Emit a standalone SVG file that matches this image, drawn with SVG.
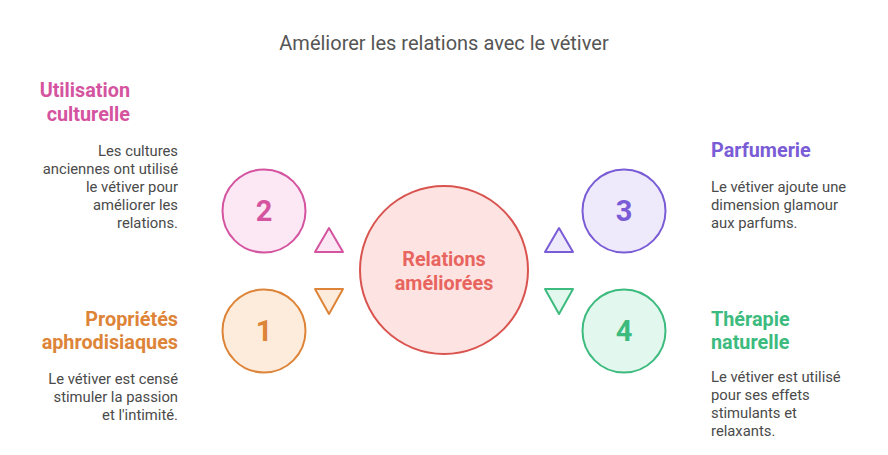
<svg xmlns="http://www.w3.org/2000/svg" width="888" height="455" viewBox="0 0 888 455">
<style>
text{font-family:Roboto,"Liberation Sans",sans-serif;}
.title{font-size:20px;fill:#555555;text-anchor:middle;}
.head{font-size:19.8px;font-weight:bold;}
.desc{font-size:14.8px;fill:#4a4a4a;}
.num{font-size:29px;font-weight:bold;text-anchor:middle;}
.r{text-anchor:end;}
.pink{fill:#D4549F;}
.orange{fill:#DD8438;}
.purple{fill:#7A5CD6;}
.green{fill:#3DBB7E;}
.sw{stroke-width:2;}
</style>
<rect width="888" height="455" fill="#ffffff"/>
<text class="title" x="444" y="50">Améliorer les relations avec le vétiver</text>

<g id="center">
<circle cx="444" cy="270" r="84" fill="#FDE4E2" stroke="#D9534F" class="sw"/>
<text x="444" y="266" font-size="19.8" font-weight="bold" fill="#E8645F" text-anchor="middle">Relations</text>
<text x="444" y="290" font-size="19.8" font-weight="bold" fill="#E8645F" text-anchor="middle">améliorées</text>
</g>

<g id="connectors">
<polygon points="329,228 343,252 315,252" fill="#FCE8F5" stroke="#D4549F" class="sw" stroke-linejoin="round"/>
<polygon points="315,289 343,289 329,314" fill="#FDEBDC" stroke="#DD8438" class="sw" stroke-linejoin="round"/>
<polygon points="559,228 573,252 545,252" fill="#EEEAFC" stroke="#7A5CD6" class="sw" stroke-linejoin="round"/>
<polygon points="545,289 573,289 559,314" fill="#E2F8EE" stroke="#3DBB7E" class="sw" stroke-linejoin="round"/>
</g>

<g id="node2">
<circle cx="264" cy="211" r="41.5" fill="#FCE8F5" stroke="#D4549F" class="sw"/>
<text class="num pink" x="264" y="221">2</text>
<text class="head pink r" x="130" y="97">Utilisation</text>
<text class="head pink r" x="130" y="121">culturelle</text>
<text class="desc r" x="178" y="156">Les cultures</text>
<text class="desc r" x="178" y="174">anciennes ont utilisé</text>
<text class="desc r" x="178" y="192">le vétiver pour</text>
<text class="desc r" x="178" y="210">améliorer les</text>
<text class="desc r" x="178" y="228">relations.</text>
</g>

<g id="node1">
<circle cx="264" cy="331" r="41.5" fill="#FDEBDC" stroke="#DD8438" class="sw"/>
<text class="num orange" x="264" y="341">1</text>
<text class="head orange r" x="178" y="326">Propriétés</text>
<text class="head orange r" x="178" y="349">aphrodisiaques</text>
<text class="desc r" x="178" y="384">Le vétiver est censé</text>
<text class="desc r" x="178" y="402">stimuler la passion</text>
<text class="desc r" x="178" y="420">et l'intimité.</text>
</g>

<g id="node3">
<circle cx="624" cy="211" r="41.5" fill="#EEEAFC" stroke="#7A5CD6" class="sw"/>
<text class="num purple" x="624" y="221">3</text>
<text class="head purple" x="711" y="157">Parfumerie</text>
<text class="desc" x="711" y="192">Le vétiver ajoute une</text>
<text class="desc" x="711" y="210">dimension glamour</text>
<text class="desc" x="711" y="228">aux parfums.</text>
</g>

<g id="node4">
<circle cx="624" cy="331" r="41.5" fill="#E2F8EE" stroke="#3DBB7E" class="sw"/>
<text class="num green" x="624" y="341">4</text>
<text class="head green" x="711" y="326">Thérapie</text>
<text class="head green" x="711" y="349">naturelle</text>
<text class="desc" x="711" y="382">Le vétiver est utilisé</text>
<text class="desc" x="711" y="400">pour ses effets</text>
<text class="desc" x="711" y="418">stimulants et</text>
<text class="desc" x="711" y="436">relaxants.</text>
</g>
</svg>
